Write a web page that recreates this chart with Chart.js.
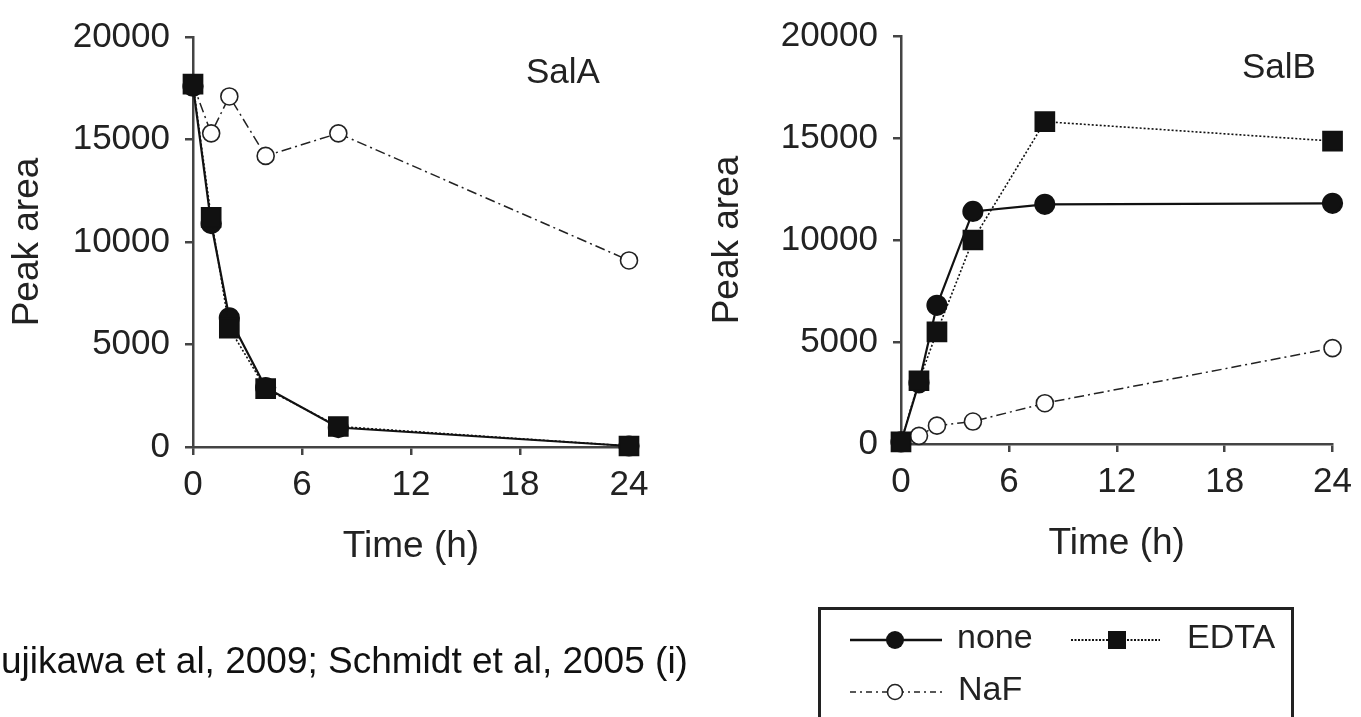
<!DOCTYPE html>
<html lang="en">
<head>
    <meta charset="UTF-8">
    <title>SalA / SalB peak area</title>
    <script src="https://cdn.jsdelivr.net/npm/chart.js"></script>
    <style>
        body {
            margin: 0;
            width: 1361px;
            height: 717px;
            overflow: hidden;
            background: #fff;
            font-family: "Liberation Sans", Arial, sans-serif;
            color: #222;
            position: relative;
        }
        .box { position: absolute; }
        .label {
            position: absolute;
            font-size: 35px;
            line-height: 35px;
            white-space: nowrap;
        }
        #legend {
            position: absolute;
            left: 818px;
            top: 607px;
            width: 470px;
            height: 140px;
            border: 3px solid #222;
        }
        .legtext {
            position: absolute;
            font-size: 34px;
            line-height: 34px;
            white-space: nowrap;
        }
        #cite {
            position: absolute;
            left: 1px;
            top: 642px;
            font-size: 37px;
            line-height: 37px;
            white-space: nowrap;
            color: #111;
        }
    </style>
</head>
<body>
    <div class="box" style="left:0;top:0;width:680px;height:600px;"><canvas id="salA"></canvas></div>
    <div class="box" style="left:700px;top:0;width:661px;height:600px;"><canvas id="salB"></canvas></div>

    <div class="label" style="left:526px;top:53px;">SalA</div>
    <div class="label" style="left:1242px;top:48px;">SalB</div>

    <div id="legend"></div>
    <svg style="position:absolute;left:0;top:0" width="1361" height="717">
        <line x1="850" y1="640" x2="942" y2="640" stroke="#111" stroke-width="2.5"/>
        <circle cx="895" cy="640" r="9" fill="#111"/>
        <line x1="1071" y1="640" x2="1160" y2="640" stroke="#111" stroke-width="1.8" stroke-dasharray="2,1.5"/>
        <rect x="1108" y="631" width="18" height="18" fill="#111"/>
        <line x1="850" y1="692" x2="942" y2="692" stroke="#222" stroke-width="1.5" stroke-dasharray="6,4,2,4"/>
        <circle cx="895" cy="692" r="7.5" fill="#fff" stroke="#222" stroke-width="1.6"/>
    </svg>
    <div class="legtext" style="left:957px;top:619px;">none</div>
    <div class="legtext" style="left:1187px;top:619px;">EDTA</div>
    <div class="legtext" style="left:958px;top:671px;">NaF</div>

    <div id="cite">ujikawa et al, 2009; Schmidt et al, 2005 (i)</div>

    <script>
        // sampling times (h)
        const hours = [0, 1, 2, 4, 8, 24];
        const xTicks = [0, 6, 12, 18, 24];
        const yMax = 20000;
        const yStep = 5000;

        // SalA peak area
        const salANone = [17600, 10900, 6300, 2900, 950, 50];
        const salAEdta = [17700, 11200, 5800, 2850, 1000, 50];
        const salANaf  = [17700, 15300, 17100, 14200, 15300, 9100];

        // SalB peak area
        const salBNone = [100, 3000, 6800, 11400, 11750, 11800];
        const salBEdta = [100, 3100, 5500, 10000, 15800, 14850];
        const salBNaf  = [100, 400, 900, 1100, 2000, 4700];

        const FONT = '"Liberation Sans", Arial, sans-serif';
        const AXIS = '#444';

        function pts(values) {
            return hours.map((h, i) => ({ x: h, y: values[i] }));
        }

        function makeSets(none, edta, naf) {
            return [
                {
                    label: 'EDTA', data: pts(edta), showLine: true, clip: false,
                    borderColor: '#111', borderWidth: 1.6, borderDash: [2, 2],
                    pointStyle: 'rect', pointRadius: 13.5,
                    pointBackgroundColor: '#111', pointBorderColor: '#111'
                },
                {
                    label: 'none', data: pts(none), showLine: true, clip: false,
                    borderColor: '#111', borderWidth: 2.2,
                    pointStyle: 'circle', pointRadius: 9.5,
                    pointBackgroundColor: '#111', pointBorderColor: '#111'
                },
                {
                    label: 'NaF', data: pts(naf), showLine: true, clip: false,
                    borderColor: '#222', borderWidth: 1.5, borderDash: [10, 4, 2, 4],
                    pointStyle: 'circle', pointRadius: 8.5, pointBorderWidth: 1.6,
                    pointBackgroundColor: '#fff', pointBorderColor: '#222'
                }
            ];
        }

        function makeChart(id, sets, yWidth, padTop, padRight, xHeight, titlePad) {
            return new Chart(document.getElementById(id), {
                type: 'scatter',
                data: { datasets: sets },
                options: {
                    responsive: true,
                    maintainAspectRatio: false,
                    animation: false,
                    layout: { padding: { top: padTop, right: padRight, left: 0, bottom: 0 } },
                    plugins: { legend: { display: false }, tooltip: { enabled: false } },
                    elements: { line: { tension: 0 } },
                    scales: {
                        x: {
                            type: 'linear', min: 0, max: 24,
                            afterBuildTicks: s => { s.ticks = xTicks.map(v => ({ value: v })); },
                            afterFit: s => { s.height = xHeight; },
                            grid: { drawOnChartArea: false, drawTicks: true, tickLength: 8, color: AXIS, lineWidth: 2.5 },
                            border: { display: true, color: AXIS, width: 2.5 },
                            ticks: { padding: 9, color: '#222', font: { family: FONT, size: 35 }, maxRotation: 0 },
                            title: { display: true, text: 'Time (h)', color: '#222',
                                     font: { family: FONT, size: 37 }, padding: { top: 0, bottom: titlePad } }
                        },
                        y: {
                            min: 0, max: yMax,
                            ticks: { stepSize: yStep, padding: 15, color: '#222',
                                     font: { family: FONT, size: 35 },
                                     callback: v => String(v) },
                            afterFit: s => { s.width = yWidth; },
                            grid: { drawOnChartArea: false, drawTicks: true, tickLength: 8, color: AXIS, lineWidth: 2.5 },
                            border: { display: true, color: AXIS, width: 2.5 },
                            title: { display: true, text: 'Peak area', color: '#222',
                                     font: { family: FONT, size: 37 }, padding: { top: 6, bottom: 0 } }
                        }
                    }
                }
            });
        }

        makeChart('salA', makeSets(salANone, salAEdta, salANaf), 193, 37, 51, 153, 31);
        makeChart('salB', makeSets(salBNone, salBEdta, salBNaf), 201, 31, 22, 156, 34);
    </script>
</body>
</html>
